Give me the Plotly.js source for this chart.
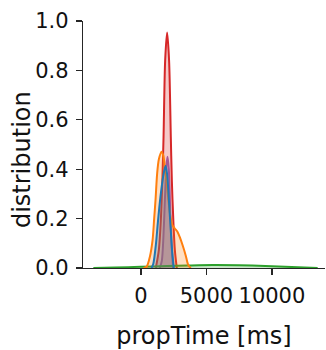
<!DOCTYPE html>
<html>
<head>
<meta charset="utf-8">
<script src="https://cdn.plot.ly/plotly-3.0.1.min.js"></script>
<style>html,body{margin:0;padding:0;background:#fff;}#chart{width:326px;height:350px;}</style>
</head>
<body>
<div id="chart"></div>
<script>
// Series (x in ms, y = distribution)
const purpleX = [1446, 1598, 1712, 1826, 1940, 2030, 2130, 2230, 2336, 2458];
const purpleY = [0, 0.03, 0.12, 0.27, 0.41, 0.45, 0.40, 0.25, 0.10, 0];

const redX = [1140, 1370, 1520, 1636, 1727, 1850, 2000, 2150, 2283, 2360, 2473, 2590, 2740];
const redY = [0, 0.073, 0.194, 0.356, 0.53, 0.84, 0.953, 0.84, 0.53, 0.356, 0.194, 0.073, 0];

const greenX = [-3630, -2000, 0, 2000, 3500, 5500, 7500, 9500, 11500, 13490];
const greenY = [0, 0.002, 0.005, 0.008, 0.010, 0.012, 0.011, 0.008, 0.004, 0];

const orangeX = [190, 434, 685, 890, 1012, 1120, 1240, 1370, 1575, 1712, 1826, 1980, 2090, 2245, 2397, 2587, 2777, 2968, 3196, 3424, 3614, 3805];
const orangeY = [0, 0.005, 0.046, 0.113, 0.2, 0.28, 0.383, 0.44, 0.471, 0.455, 0.41, 0.34, 0.28, 0.21, 0.175, 0.16, 0.148, 0.125, 0.09, 0.05, 0.012, 0];

const blueX = [800, 936, 1142, 1294, 1484, 1697, 1880, 2000, 2154, 2283, 2397, 2511];
const blueY = [0, 0.015, 0.095, 0.185, 0.285, 0.37, 0.414, 0.38, 0.26, 0.15, 0.06, 0];

const xTickVals = [0, 5000, 10000];
const xTickText = ["0", "5000", "10000"];
const yTickVals = [0, 0.2, 0.4, 0.6, 0.8, 1.0];
const xTitle = 'propTime [ms]';
const yTitle = 'distribution';

function kde(x, y, color, fill) {
  return {
    x: x, y: y, type: 'scatter', mode: 'lines',
    line: {color: color, width: 2, shape: 'spline', smoothing: 0.8},
    fill: 'tozeroy', fillcolor: fill,
    hoverinfo: 'skip', showlegend: false
  };
}

const data = [
  kde(purpleX, purpleY, '#9467bd', 'rgba(148,103,189,0.25)'),
  kde(redX, redY, '#d62728', 'rgba(214,39,40,0.25)'),
  kde(greenX, greenY, '#2ca02c', 'rgba(44,160,44,0.25)'),
  kde(orangeX, orangeY, '#ff7f0e', 'rgba(255,127,14,0.25)'),
  kde(blueX, blueY, '#1f77b4', 'rgba(31,119,180,0.25)')
];

const axisCommon = {
  showline: true, linecolor: '#262626', linewidth: 1.25,
  ticks: 'outside', ticklen: 6, tickwidth: 1.25, tickcolor: '#262626',
  showgrid: false, zeroline: false,
  tickfont: {family: 'DejaVu Sans', size: 21, color: '#111'}
};

const layout = {
  width: 326, height: 350,
  margin: {l: 83, r: 1, t: 21, b: 82},
  paper_bgcolor: '#fff', plot_bgcolor: '#fff',
  showlegend: false,
  xaxis: Object.assign({}, axisCommon, {
    range: [-4420, 14050],
    tickvals: xTickVals, ticktext: xTickText,
    ticklabelstandoff: 3,
    title: {text: xTitle, font: {family: 'DejaVu Sans', size: 24, color: '#111'}, standoff: 19}
  }),
  yaxis: Object.assign({}, axisCommon, {
    range: [0, 1.0],
    tickvals: yTickVals, tickformat: '.1f',
    ticklabelstandoff: 3
  }),
  annotations: [{
    text: yTitle, xref: 'paper', yref: 'paper',
    x: -0.252, y: 0.437, xanchor: 'center', yanchor: 'middle',
    textangle: -90, showarrow: false,
    font: {family: 'DejaVu Sans', size: 24, color: '#111'}
  }]
};

Plotly.newPlot('chart', data, layout, {staticPlot: true, displayModeBar: false});
</script>
</body>
</html>
